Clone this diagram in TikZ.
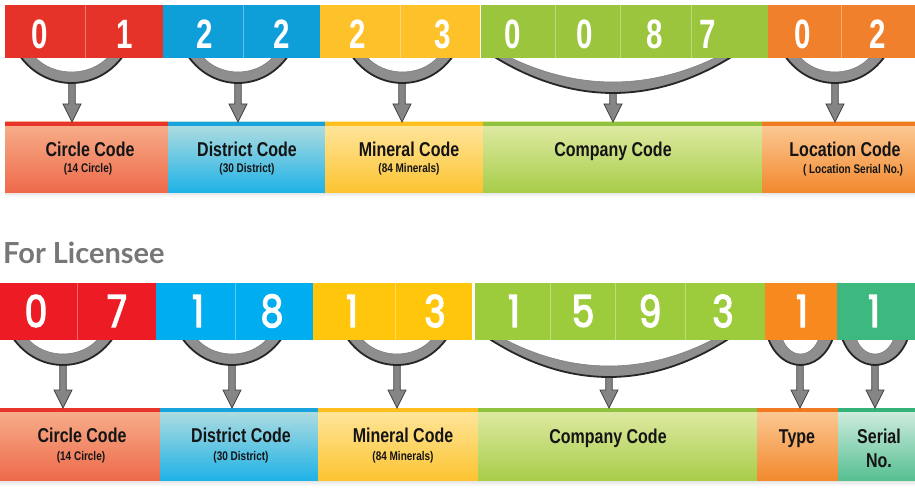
\documentclass[tikz,border=0pt]{standalone}
\usepackage{fontspec}
\setmainfont{Liberation Sans}
\newfontfamily\condf{Liberation Sans}[FakeStretch=0.8]
\newfontfamily\digtopf{Liberation Sans}[FakeStretch=0.72]
\newfontfamily\digbotf{Poppins}[FakeStretch=0.82,FakeBold=3]
\newfontfamily\headf{Lato}
\usetikzlibrary{calc}
\definecolor{tR}{HTML}{E63329}
\definecolor{tB}{HTML}{0E9ED8}
\definecolor{tY}{HTML}{FDC12A}
\definecolor{tG}{HTML}{9BC53D}
\definecolor{tO}{HTML}{F0802C}
\definecolor{bR}{HTML}{ED1C24}
\definecolor{bB}{HTML}{00AEEF}
\definecolor{bY}{HTML}{FFC60B}
\definecolor{bG}{HTML}{9CCB3B}
\definecolor{bO}{HTML}{F7891F}
\definecolor{bT}{HTML}{3DB87E}
\definecolor{cRt}{HTML}{F7B08C}\definecolor{cRb}{HTML}{EE6A4B}\definecolor{cRs}{HTML}{E8352B}
\definecolor{cBt}{HTML}{B5DEE0}\definecolor{cBb}{HTML}{1FB2E6}\definecolor{cBs}{HTML}{19A3DC}
\definecolor{cYt}{HTML}{FEE7A0}\definecolor{cYb}{HTML}{FDC431}\definecolor{cYs}{HTML}{FDBE1E}
\definecolor{cGt}{HTML}{E0EBA6}\definecolor{cGb}{HTML}{A8CD4A}\definecolor{cGs}{HTML}{8EC23F}
\definecolor{cOt}{HTML}{FCCB98}\definecolor{cOb}{HTML}{F2892E}\definecolor{cOs}{HTML}{F07A22}
\definecolor{cTt}{HTML}{D5EEE2}\definecolor{cTb}{HTML}{56BF92}\definecolor{cTs}{HTML}{34B27A}
\definecolor{brgray}{HTML}{8E8E8E}
\definecolor{arrgray}{HTML}{858585}
\definecolor{headgray}{HTML}{777777}

% x1 x2 ytop depth controlfactor
\newcommand\crs[5]{%
  \pgfmathsetmacro\crW{#2-#1}%
  \pgfmathsetmacro\crA{#1+#5*\crW}%
  \pgfmathsetmacro\crB{#2-#5*\crW}%
  \pgfmathsetmacro\crO{#3+#4/0.75}%
  \pgfmathsetmacro\crIa{#1+14}%
  \pgfmathsetmacro\crIb{#2-14}%
  \pgfmathsetmacro\crIw{\crIb-\crIa}%
  \pgfmathsetmacro\crIc{\crIa+#5*\crIw}%
  \pgfmathsetmacro\crId{\crIb-#5*\crIw}%
  \pgfmathsetmacro\crI{#3+(#4-11)/0.75}%
  \fill[brgray] (#1,#3) .. controls (\crA,\crO) and (\crB,\crO) .. (#2,#3)
     -- (\crIb,#3) .. controls (\crId,\crI) and (\crIc,\crI) .. (\crIa,#3) -- cycle;
  \draw[black!85, line width=1.8pt] (#1,#3) .. controls (\crA,\crO) and (\crB,\crO) .. (#2,#3);
  \draw[black!50, line width=0.6pt] (\crIb,#3) .. controls (\crId,\crI) and (\crIc,\crI) .. (\crIa,#3);
}
\newcommand\garrow[2]{%
  \path[arrowsty] let \p1=(#1), \p2=(#1 |- #2.north) in
    (\x1-3.2pt,\y1) -- (\x1-3.2pt,\y2+18pt) -- (\x1-9pt,\y2+18pt) -- (\x2,\y2)
    -- (\x1+9pt,\y2+18pt) -- (\x1+3.2pt,\y2+18pt) -- (\x1+3.2pt,\y1) -- cycle;
}

\tikzset{
  cellbase/.style={inner sep=0pt, outer sep=0pt, anchor=north west, draw=none},
  topcell/.style={cellbase, minimum height=53pt},
  botcell/.style={cellbase, minimum height=57pt},
  divider/.style={white, opacity=0.35, line width=0.8pt},
  dtop/.style={text=white, font=\digtopf\bfseries\fontsize{41}{41}\selectfont, inner sep=0pt},
  dbot/.style={text=white, font=\digbotf\fontsize{44}{44}\selectfont, inner sep=0pt},
  lbox/.style={inner sep=0pt, outer sep=0pt, anchor=north west},
  toplbl/.style={lbox, minimum height=70pt},
  botlbl/.style={lbox, minimum height=72pt},
  maintxt/.style={font=\condf\bfseries\fontsize{20}{22}\selectfont, text=black!92, inner sep=0pt, anchor=base},
  subtxt/.style={font=\condf\bfseries\fontsize{12.5}{14}\selectfont, text=black!92, inner sep=0pt, anchor=base},
  arrowsty/.style={fill=arrgray, draw=black!75, line width=0.7pt, line join=miter},
}

\begin{document}
\begin{tikzpicture}[x=1pt, y=-1pt]
\useasboundingbox (0,0) rectangle (915,500);
\fill[white] (0,0) rectangle (915,500);

% ---------- top label boxes ----------
\shade[top color=black!12, bottom color=white] (5,192) rectangle (915,197);
\node[toplbl, minimum width=163pt, top color=cRt, bottom color=cRb] (TL1) at (5,122) {};
\node[toplbl, minimum width=157pt, top color=cBt, bottom color=cBb] (TL2) at (168,122) {};
\node[toplbl, minimum width=158pt, top color=cYt, bottom color=cYb] (TL3) at (325,122) {};
\node[toplbl, minimum width=279pt, top color=cGt, bottom color=cGb] (TL4) at (483,122) {};
\node[toplbl, minimum width=153pt, top color=cOt, bottom color=cOb] (TL5) at (762,122) {};
\fill[cRs] (TL1.north west) rectangle ([yshift=-4pt]TL1.north east);
\fill[cBs] (TL2.north west) rectangle ([yshift=-4pt]TL2.north east);
\fill[cYs] (TL3.north west) rectangle ([yshift=-4pt]TL3.north east);
\fill[cGs] (TL4.north west) rectangle ([yshift=-4pt]TL4.north east);
\fill[cOs] (TL5.north west) rectangle ([yshift=-4pt]TL5.north east);

\node[maintxt] (tm1) at (90,156) {Circle Code};
\node[subtxt]  (ts1) at (88,172) {(14 Circle)};
\node[maintxt] (tm2) at (247,156) {District Code};
\node[subtxt]  (ts2) at (247,172) {(30 District)};
\node[maintxt] (tm3) at (409,156) {Mineral Code};
\node[subtxt]  (ts3) at (409,172) {(84 Minerals)};
\node[maintxt] (tm4) at (613,157) {Company Code};
\node[maintxt] (tm5) at (845,157) {Location Code};
\node[subtxt]  (ts5) at (853,173) {( Location Serial No.)};

% ---------- bottom label boxes ----------
\shade[top color=black!12, bottom color=white] (0,480) rectangle (915,486);
\node[botlbl, minimum width=160pt, top color=cRt, bottom color=cRb] (BL1) at (0,408) {};
\node[botlbl, minimum width=158pt, top color=cBt, bottom color=cBb] (BL2) at (160,408) {};
\node[botlbl, minimum width=160pt, top color=cYt, bottom color=cYb] (BL3) at (318,408) {};
\node[botlbl, minimum width=279pt, top color=cGt, bottom color=cGb] (BL4) at (478,408) {};
\node[botlbl, minimum width=81pt, top color=cOt, bottom color=cOb] (BL5) at (757,408) {};
\node[botlbl, minimum width=77pt, top color=cTt, bottom color=cTb] (BL6) at (838,408) {};
\fill[cRs] (BL1.north west) rectangle ([yshift=-4pt]BL1.north east);
\fill[cBs] (BL2.north west) rectangle ([yshift=-4pt]BL2.north east);
\fill[cYs] (BL3.north west) rectangle ([yshift=-4pt]BL3.north east);
\fill[cGs] (BL4.north west) rectangle ([yshift=-4pt]BL4.north east);
\fill[cOs] (BL5.north west) rectangle ([yshift=-4pt]BL5.north east);
\fill[cTs] (BL6.north west) rectangle ([yshift=-4pt]BL6.north east);

\node[maintxt] (bm1) at (82,442) {Circle Code};
\node[subtxt]  (bs1) at (81,460) {(14 Circle)};
\node[maintxt] (bm2) at (241,442) {District Code};
\node[subtxt]  (bs2) at (241,460) {(30 District)};
\node[maintxt] (bm3) at (403,442) {Mineral Code};
\node[subtxt]  (bs3) at (403,460) {(84 Minerals)};
\node[maintxt] (bm4) at (608,443) {Company Code};
\node[maintxt] (bm5) at (797,443) {Type};
\node[maintxt] (bm6) at (879,443) {Serial};
\node[maintxt] (bm7) at (879,467) {No.};

% ---------- heading ----------
\node[font=\headf\bfseries\fontsize{29}{30}\selectfont, text=headgray, anchor=base west, inner sep=0pt] (head) at (3,263) {For Licensee};

% ---------- top arrows and braces ----------
\coordinate (ta1) at (72,78);
\coordinate (ta2) at (238,78);
\coordinate (ta3) at (402,78);
\coordinate (ta4) at (613,88);
\coordinate (ta5) at (835,78);
\garrow{ta1}{TL1}
\garrow{ta2}{TL2}
\garrow{ta3}{TL3}
\garrow{ta4}{TL4}
\garrow{ta5}{TL5}
\crs{20}{123}{56}{27}{0.25}
\crs{188}{288}{56}{27}{0.25}
\crs{352}{453}{56}{27}{0.25}
\crs{493}{733}{56}{37}{0.33}
\crs{785}{885}{56}{27}{0.25}

% ---------- bottom arrows and braces ----------
\coordinate (ba1) at (63,360);
\coordinate (ba2) at (232,360);
\coordinate (ba3) at (397,360);
\coordinate (ba4) at (609,372);
\coordinate (ba5) at (800,360);
\coordinate (ba6) at (875,360);
\garrow{ba1}{BL1}
\garrow{ba2}{BL2}
\garrow{ba3}{BL3}
\garrow{ba4}{BL4}
\garrow{ba5}{BL5}
\garrow{ba6}{BL6}
\crs{13}{113}{338}{27}{0.25}
\crs{182}{282}{338}{27}{0.25}
\crs{347}{447}{338}{27}{0.25}
\crs{488}{730}{338}{39}{0.33}
\crs{768}{833}{338}{27}{0.2}
\crs{842}{908}{338}{27}{0.2}

% ---------- top digit bar ----------
\node[topcell, minimum width=80pt, fill=tR] (t1) at (5,5) {};
\node[topcell, minimum width=78pt, fill=tR] (t2) at (85,5) {};
\node[topcell, minimum width=80pt, fill=tB] (t3) at (163,5) {};
\node[topcell, minimum width=77pt, fill=tB] (t4) at (243,5) {};
\node[topcell, minimum width=80pt, fill=tY] (t5) at (320,5) {};
\node[topcell, minimum width=80pt, fill=tY] (t6) at (400,5) {};
\node[topcell, minimum width=75pt, fill=tG] (t7) at (480,5) {};
\node[topcell, minimum width=65pt, fill=tG] (t8) at (555,5) {};
\node[topcell, minimum width=71pt, fill=tG] (t9) at (620,5) {};
\node[topcell, minimum width=77pt, fill=tG] (t10) at (691,5) {};
\node[topcell, minimum width=73pt, fill=tO] (t11) at (768,5) {};
\node[topcell, minimum width=74pt, fill=tO] (t12) at (841,5) {};
\foreach \c in {t1,t3,t5,t7,t8,t9,t11}{\draw[divider] (\c.north east) -- (\c.south east);}
\draw[white, line width=1pt] (t6.north east) -- (t6.south east);

\node[dtop] (dt1) at (40,34) {0};
\node[dtop] (dt2) at (125,34) {1};
\node[dtop] (dt3) at (205,34) {2};
\node[dtop] (dt4) at (282,34) {2};
\node[dtop] (dt5) at (358,34) {2};
\node[dtop] (dt6) at (443,34) {3};
\node[dtop] (dt7) at (513,34) {0};
\node[dtop] (dt8) at (585,34) {0};
\node[dtop] (dt9) at (655,34) {8};
\node[dtop] (dt10) at (708,34) {7};
\node[dtop] (dt11) at (803,34) {0};
\node[dtop] (dt12) at (878,34) {2};

% ---------- bottom digit bar ----------
\node[botcell, minimum width=77pt, fill=bR] (b1) at (0,283) {};
\node[botcell, minimum width=79pt, fill=bR] (b2) at (77,283) {};
\node[botcell, minimum width=79pt, fill=bB] (b3) at (156,283) {};
\node[botcell, minimum width=78pt, fill=bB] (b4) at (235,283) {};
\node[botcell, minimum width=82pt, fill=bY] (b5) at (313,283) {};
\node[botcell, minimum width=77pt, fill=bY] (b6) at (395,283) {};
\node[botcell, minimum width=75pt, fill=bG] (b7) at (475,283) {};
\node[botcell, minimum width=65pt, fill=bG] (b8) at (550,283) {};
\node[botcell, minimum width=70pt, fill=bG] (b9) at (615,283) {};
\node[botcell, minimum width=80pt, fill=bG] (b10) at (685,283) {};
\node[botcell, minimum width=72pt, fill=bO] (b11) at (765,283) {};
\node[botcell, minimum width=78pt, fill=bT] (b12) at (837,283) {};
\foreach \c in {b1,b3,b5,b7,b8,b9}{\draw[divider] (\c.north east) -- (\c.south east);}

\node[dbot] (db1) at (36,311) {0};
\node[dbot] (db2) at (117,311) {7};
\node[dbot] (db3) at (198,311) {1};
\node[dbot] (db4) at (272,311) {8};
\node[dbot] (db5) at (352,311) {1};
\node[dbot] (db6) at (435,311) {3};
\node[dbot] (db7) at (514,311) {1};
\node[dbot] (db8) at (583,311) {5};
\node[dbot] (db9) at (650,311) {9};
\node[dbot] (db10) at (723,311) {3};
\node[dbot] (db11) at (802,311) {1};
\node[dbot] (db12) at (874,311) {1};
\end{tikzpicture}
\end{document}
